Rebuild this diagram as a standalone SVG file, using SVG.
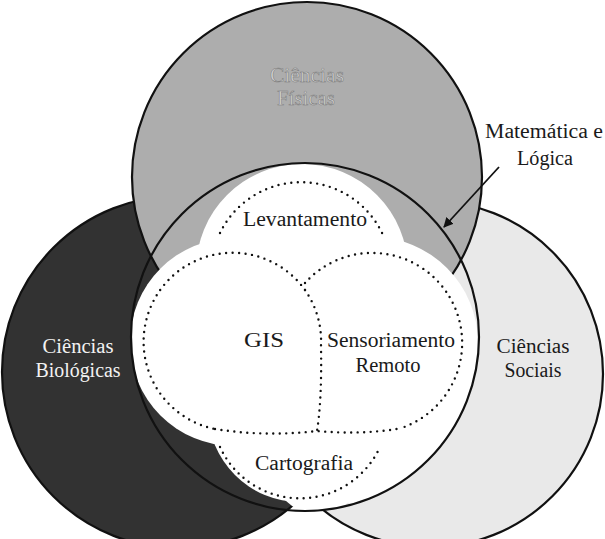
<svg xmlns="http://www.w3.org/2000/svg" width="605" height="539" viewBox="0 0 605 539">
<style>
.big{stroke:#111;stroke-width:2.2}
.lbl{font-family:"Liberation Serif","DejaVu Serif",serif;font-size:20px;fill:#1a1a1a;text-anchor:middle}
.inv{fill:#f2f2f2}
.faint{fill:#d4d4d4;stroke:#7a7a7a;stroke-width:0.5}
.dot{fill:none;stroke:#111;stroke-width:2.4;stroke-dasharray:0 6.5;stroke-linecap:round}
</style>
<defs>
<clipPath id="cc"><circle cx="305" cy="337" r="174"/></clipPath>
<marker id="ah" viewBox="0 0 10 10" refX="9" refY="5" markerWidth="5.5" markerHeight="5.5" orient="auto"><path d="M0,0 L10,5 L0,10 z" fill="#111"/></marker>
</defs>
<g id="sociais"><circle class="big" cx="430" cy="374" r="173" fill="#e9e9e9"/></g>
<g id="biologicas"><circle class="big" cx="178" cy="372" r="176" fill="#323232"/></g>
<g id="fisicas"><circle class="big" cx="307" cy="177" r="175" fill="#adadad"/></g>
<g id="matematica">
<g clip-path="url(#cc)" fill="#fff">
<circle cx="302" cy="270" r="106"/>
<circle cx="234" cy="342" r="104"/>
<circle cx="372" cy="343" r="106"/>
<circle cx="300" cy="410" r="92"/>
<circle cx="318" cy="468" r="46"/>
<circle cx="395" cy="420" r="95"/>
</g>
<circle cx="305" cy="337" r="174" fill="none" stroke="#111" stroke-width="2.2"/>
</g>
<g id="levantamento"><path class="dot" d="M220,233 A90,90 0 0 1 383,235"/></g>
<g id="gis"><path class="dot" d="M305,290 A89,89 0 1 0 215,429"/><path class="dot" d="M305,290 A89,89 0 0 1 321,345 Q322,400 317,431"/></g>
<g id="sensoriamento"><path class="dot" d="M305,283 A90,90 0 1 1 400,428.5"/></g>
<g id="cartografia"><path class="dot" d="M215,429 Q265,437 317,431 Q360,435 400,428.5"/><path class="dot" d="M220,447 A88,88 0 0 0 380,447"/></g>
<g id="connectors"><line x1="499" y1="167" x2="444" y2="227" stroke="#111" stroke-width="1.8" marker-end="url(#ah)"/></g>
<g id="labels">
<text class="lbl faint" x="307" y="82" textLength="74" lengthAdjust="spacingAndGlyphs">Ciências</text>
<text class="lbl faint" x="306" y="105" textLength="58" lengthAdjust="spacingAndGlyphs">Físicas</text>
<text class="lbl" x="544" y="138" textLength="118" lengthAdjust="spacingAndGlyphs">Matemática e</text>
<text class="lbl" x="545" y="165" textLength="56" lengthAdjust="spacingAndGlyphs">Lógica</text>
<text class="lbl" x="305" y="226" textLength="124" lengthAdjust="spacingAndGlyphs">Levantamento</text>
<text class="lbl" x="264" y="347" textLength="40" lengthAdjust="spacingAndGlyphs">GIS</text>
<text class="lbl" x="391" y="347" textLength="128" lengthAdjust="spacingAndGlyphs">Sensoriamento</text>
<text class="lbl" x="388" y="372" textLength="65" lengthAdjust="spacingAndGlyphs">Remoto</text>
<text class="lbl" x="304" y="470" textLength="98" lengthAdjust="spacingAndGlyphs">Cartografia</text>
<text class="lbl inv" x="78" y="353" textLength="71" lengthAdjust="spacingAndGlyphs">Ciências</text>
<text class="lbl inv" x="78" y="377" textLength="85" lengthAdjust="spacingAndGlyphs">Biológicas</text>
<text class="lbl" x="533" y="353" textLength="73" lengthAdjust="spacingAndGlyphs">Ciências</text>
<text class="lbl" x="533" y="377" textLength="57" lengthAdjust="spacingAndGlyphs">Sociais</text>
</g>
</svg>
